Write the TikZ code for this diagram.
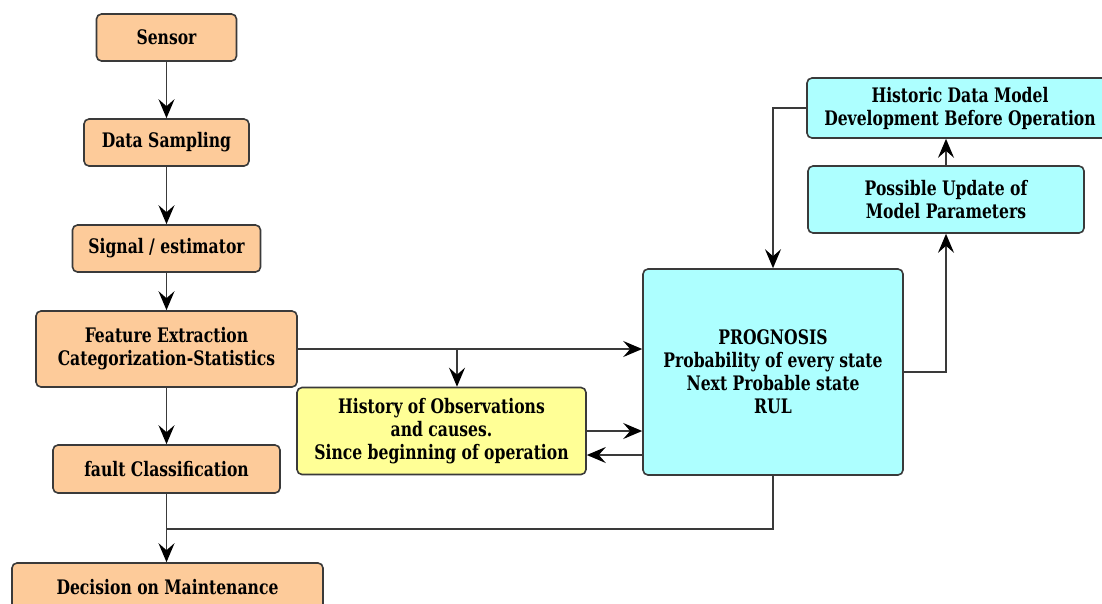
\documentclass[tikz,border=0pt]{standalone}
\usepackage{fontspec}
\setmainfont{DejaVu Serif}
\newfontfamily\boxfont{DejaVu Serif}[FakeStretch=0.78]
\usetikzlibrary{arrows.meta}
\definecolor{orangefill}{HTML}{FDCB9A}
\definecolor{yellowfill}{HTML}{FFFF96}
\definecolor{cyanfill}{HTML}{ADFFFF}
\definecolor{edgegray}{HTML}{3A3A3A}
\begin{document}
\begin{tikzpicture}[x=1pt,y=-1pt,
  box/.style={draw=edgegray, line width=1.6pt, rounded corners=5pt,
    font=\boxfont\bfseries\fontsize{20}{23}\selectfont, align=center, inner sep=0pt},
  obox/.style={box, fill=orangefill},
  ybox/.style={box, fill=yellowfill},
  cbox/.style={box, fill=cyanfill},
  wire/.style={line width=1.7pt, draw=edgegray},
  conn/.style={wire, -{Stealth[length=19pt,width=16pt,inset=7pt,black]}}]
\useasboundingbox (0,0) rectangle (1102,603);
\clip (0,0) rectangle (1102,603);
\fill[white] (0,0) rectangle (1102,603);
% left column
\node[obox, minimum width=140pt, minimum height=47pt] (sensor) at (166.5,37.5) {Sensor};
\node[obox, minimum width=165pt, minimum height=47pt] (ds) at (166.5,142.5) {Data Sampling};
\node[obox, minimum width=188pt, minimum height=47pt] (sig) at (166.5,248.5) {Signal / estimator};
\node[obox, minimum width=261pt, minimum height=76pt] (fe) at (166.5,349) {Feature Extraction\\Categorization-Statistics};
\node[obox, minimum width=227pt, minimum height=48pt] (fault) at (166.5,469) {fault Classification};
\node[obox, minimum width=311pt, minimum height=48pt] (dec) at (167.5,587) {Decision on Maintenance};
% middle / right
\node[ybox, minimum width=289pt, minimum height=87pt] (hist) at (441.5,431) {History of Observations\\and causes.\\Since beginning of operation};
\node[cbox, minimum width=260pt, minimum height=206pt] (prog) at (773,372) {PROGNOSIS\\Probability of every state\\Next Probable state\\RUL};
\node[cbox, minimum width=276pt, minimum height=67pt] (pos) at (946,199.5) {Possible Update of\\Model Parameters};
\node[cbox, minimum width=306pt, minimum height=60pt] (hd) at (960,108) {Historic Data Model\\Development Before Operation};
% connectors
\draw[conn] (sensor.south) -- (ds.north);
\draw[conn] (ds.south) -- (sig.north);
\draw[conn] (sig.south) -- (fe.north);
\draw[conn] (fe.south) -- (fault.north);
\draw[conn] (fault.south) -- (fault.south |- dec.north);
\coordinate (join) at (166.5,529);
\draw[wire] (prog.south) |- (join);
\draw[conn] (fe.east) -- (fe.east -| prog.west);
\coordinate (branch) at (457,349);
\draw[conn] (branch) -- (branch |- hist.north);
\draw[conn] (hist.east) -- (hist.east -| prog.west);
\coordinate (back) at (643,455);
\draw[conn] (back) -- (back -| hist.east);
\draw[conn] (prog.east) -| (pos.south);
\draw[conn] (pos.north) -- (pos.north |- hd.south);
\draw[conn] (hd.west) -| (prog.north);
\end{tikzpicture}
\end{document}
